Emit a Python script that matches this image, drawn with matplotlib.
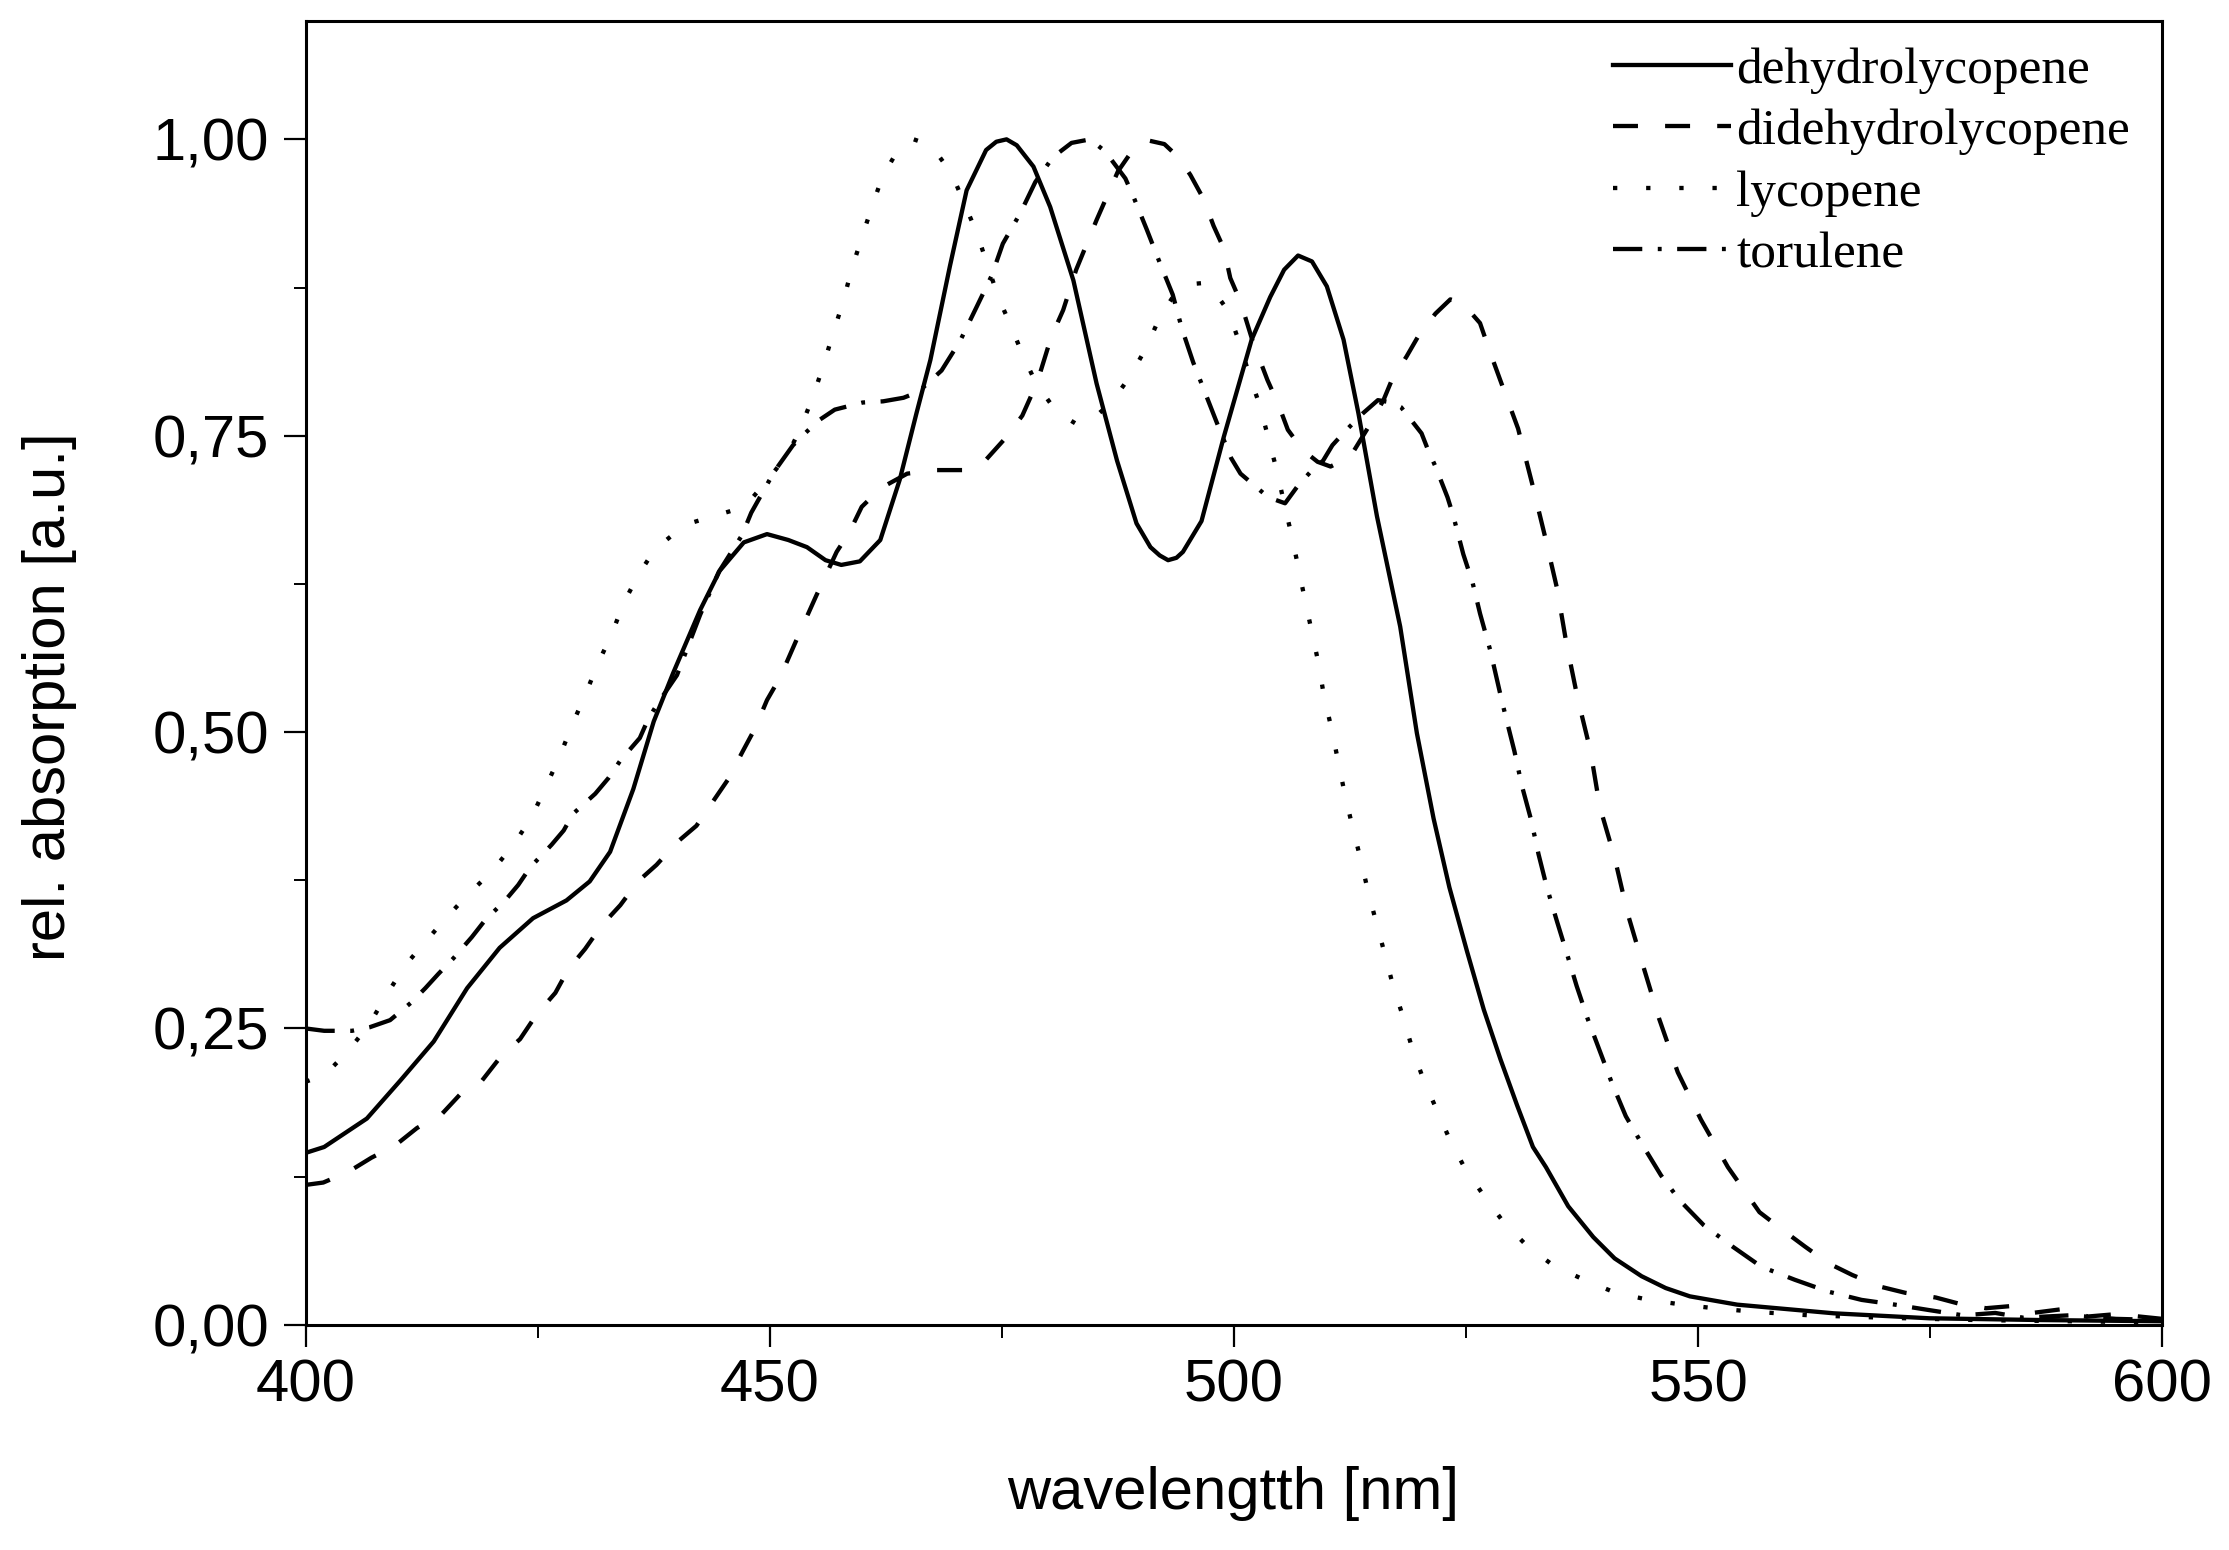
import matplotlib
matplotlib.use("Agg")
import matplotlib.pyplot as plt
from matplotlib.ticker import MultipleLocator, FuncFormatter

# ---------------- data ----------------
dehydro_x = [400, 402, 406.6, 410.2, 413.8, 417.4, 420.9, 424.5, 428.1, 430.6, 432.8, 435.3,
             437.5, 439.6, 442.5, 444.6, 447.2, 449.7, 452, 454, 456, 457.7, 459.7, 461.9,
             464, 465.8, 467.3, 469.4, 471.2, 473.3, 474.4, 475.5, 476.6, 477.5, 478.4, 480.2,
             482.7, 485.2, 487.4, 489.5, 491, 492, 492.9, 493.8, 494.5, 496.5, 498.9, 501.9,
             503.9, 505.4, 506.9, 508.4, 510, 511.8, 513.4, 515.4, 517.9, 519.7, 521.5, 523.2,
             525.1, 526.9, 528.7, 530.5, 532.2, 533.6, 536, 538.7, 541, 543.9, 546.5, 549.1,
             554.2, 564.6, 574.9, 587, 600]
dehydro_y = [0.145, 0.150, 0.174, 0.206, 0.239, 0.284, 0.318, 0.343, 0.358, 0.374, 0.399, 0.452,
             0.509, 0.550, 0.603, 0.636, 0.660, 0.667, 0.662, 0.656, 0.645, 0.641, 0.644, 0.662,
             0.713, 0.769, 0.814, 0.893, 0.957, 0.991, 0.998, 1.000, 0.995, 0.986, 0.977, 0.943,
             0.881, 0.794, 0.729, 0.676, 0.656, 0.649, 0.645, 0.647, 0.652, 0.678, 0.749, 0.831,
             0.867, 0.890, 0.902, 0.897, 0.876, 0.831, 0.769, 0.682, 0.589, 0.499, 0.427, 0.369,
             0.315, 0.266, 0.224, 0.185, 0.150, 0.133, 0.100, 0.074, 0.056, 0.041, 0.031, 0.024,
             0.017, 0.0097, 0.0055, 0.004, 0.003]

didehydro_x = [400, 401.9, 404.6, 407.1, 409.6, 412, 414.7, 416.6, 419, 421.1, 423.1, 424.9,
               426.9, 428.3, 430.1, 431.9, 433.9, 435.8, 437.8, 440, 442.1, 444.1, 445.5, 447.1,
               448.4, 449.7, 451.1, 453, 455, 457.2, 458.6, 459.9, 462, 464.8, 467.8, 470.8,
               473.2, 475.5, 477.2, 478.8, 480.3, 481.6, 483, 485.2, 487.5, 489, 490.8, 492.5,
               494, 495.3, 496.7, 497.8, 498.9, 499.6, 500.7, 502, 503.6, 504.8, 505.8, 507.4,
               509, 510.4, 512.5, 514.3, 516.1, 517, 518.6, 520, 521.7, 523.3, 524.6, 526.5,
               527.6, 529, 530.6, 532.1, 533.5, 534.8, 535.8, 537, 538.4, 539.4, 541, 542.4,
               544.1, 545.8, 547.8, 550.3, 553.2, 556.6, 559.1, 561.5, 564, 566.6, 569.7, 572.3,
               575.6, 578, 581, 584, 586, 589, 592, 595, 600]
didehydro_y = [0.118, 0.120, 0.129, 0.141, 0.151, 0.166, 0.178, 0.194, 0.206, 0.227, 0.241, 0.262,
               0.280, 0.300, 0.317, 0.337, 0.354, 0.374, 0.388, 0.407, 0.421, 0.444, 0.460, 0.484,
               0.503, 0.527, 0.546, 0.580, 0.615, 0.652, 0.669, 0.690, 0.706, 0.718, 0.721, 0.721,
               0.729, 0.749, 0.767, 0.795, 0.833, 0.856, 0.890, 0.932, 0.973, 0.990, 0.999, 0.996,
               0.985, 0.970, 0.950, 0.927, 0.908, 0.883, 0.863, 0.830, 0.797, 0.776, 0.755, 0.738,
               0.728, 0.724, 0.732, 0.755, 0.780, 0.797, 0.817, 0.836, 0.853, 0.865, 0.862, 0.845,
               0.820, 0.790, 0.756, 0.710, 0.665, 0.621, 0.575, 0.529, 0.484, 0.437, 0.394, 0.347,
               0.302, 0.258, 0.213, 0.173, 0.133, 0.095, 0.080, 0.066, 0.052, 0.042, 0.032, 0.027,
               0.023, 0.018, 0.014, 0.016, 0.010, 0.013, 0.007, 0.009, 0.005]

lycopene_x = [400, 402.1, 404.6, 406.9, 408.7, 410.7, 412.9, 415.1, 417.5, 420, 422.4, 424.4,
              426, 427.4, 428.7, 430.1, 431.5, 433, 434.2, 435.8, 437.6, 440.9, 444.3, 447.3,
              450, 452, 453.4, 454.7, 455.8, 456.8, 457.9, 458.8, 459.9, 461, 462.1, 463.8,
              465.5, 467, 468.3, 469.6, 471, 472.3, 474.6, 476, 477.3, 478.7, 480.9, 483, 484.3,
              486.8, 488.8, 490.6, 492, 493.5, 495.5, 497, 498.2, 499.4, 500.6, 501.7, 502.8,
              503.7, 504.6, 505.4, 506.2, 506.9, 507.6, 508.4, 509.1, 509.7, 510.5, 511.2, 511.9,
              512.7, 513.6, 514.4, 515.3, 516.2, 517.1, 518.2, 519.2, 520.4, 521.8, 523.2, 524.8,
              526.9, 528.9, 531.5, 534.4, 537.7, 541.1, 544.7, 548.3, 551.7, 556, 562, 570, 580,
              590, 600]
lycopene_y = [0.205, 0.211, 0.231, 0.254, 0.278, 0.303, 0.323, 0.343, 0.363, 0.382, 0.405, 0.429,
              0.456, 0.480, 0.506, 0.531, 0.558, 0.583, 0.608, 0.632, 0.654, 0.675, 0.683, 0.690,
              0.715, 0.735, 0.758, 0.784, 0.810, 0.836, 0.863, 0.890, 0.917, 0.943, 0.968, 0.991,
              1.000, 0.996, 0.985, 0.971, 0.945, 0.921, 0.867, 0.842, 0.817, 0.794, 0.770, 0.760, 0.761,
              0.778, 0.800, 0.825, 0.850, 0.868, 0.878, 0.879, 0.868, 0.855, 0.828, 0.800, 0.775,
              0.748, 0.721, 0.693, 0.666, 0.640, 0.613, 0.584, 0.558, 0.530, 0.503, 0.476, 0.449,
              0.422, 0.394, 0.367, 0.340, 0.314, 0.287, 0.260, 0.233, 0.207, 0.182, 0.157, 0.133,
              0.109, 0.088, 0.067, 0.050, 0.038, 0.027, 0.021, 0.017, 0.014, 0.011, 0.008, 0.006, 0.004,
              0.003, 0.002]

torulene_x = [400, 402, 405, 406.9, 409.1, 411.4, 412.9, 414.3, 415.9, 417.9, 419.3, 421.5,
              422.9, 424.2, 426.5, 427.8, 428.8, 431.2, 432.6, 433.9, 436, 436.9, 438, 440,
              442.5, 444.5, 447, 448, 450.5, 452.5, 455.1, 457, 460, 462.2, 464.4, 466, 468.5,
              470.5, 472.3, 473.9, 475.1, 477, 478.6, 480.5, 482.5, 484.5, 486.1, 488.3, 489.2,
              490.6, 492, 493.4, 494.4, 495.6, 496.9, 498.2, 499.7, 500.7, 502.2, 503.7, 505.5,
              506.9, 508.3, 509.6, 510.6, 512, 513.9, 515.5, 517, 518, 520.2, 520.9, 521.7, 523,
              523.6, 524.1, 524.7, 525.7, 526.5, 527.6, 528.8, 529.3, 530.2, 531, 532, 532.8,
              533.7, 534.8, 535.9, 536.9, 538.1, 539.4, 540.7, 542.2, 543.9, 546, 548, 550.6,
              553.7, 556.8, 560.4, 564, 567.6, 571.2, 574.8, 578.5, 582, 585, 590, 595, 600]
torulene_y = [0.250, 0.248, 0.248, 0.251, 0.257, 0.272, 0.284, 0.296, 0.309, 0.327, 0.341, 0.358,
              0.371, 0.386, 0.405, 0.417, 0.431, 0.448, 0.461, 0.476, 0.495, 0.511, 0.525, 0.548,
              0.599, 0.635, 0.666, 0.685, 0.720, 0.742, 0.762, 0.772, 0.778, 0.779, 0.782, 0.787, 0.805,
              0.830, 0.859, 0.885, 0.912, 0.938, 0.964, 0.985, 0.997, 1.000, 0.990, 0.967, 0.951,
              0.924, 0.896, 0.869, 0.840, 0.812, 0.786, 0.760, 0.731, 0.718, 0.708, 0.698, 0.693,
              0.708, 0.720, 0.729, 0.742, 0.754, 0.769, 0.780, 0.778, 0.774, 0.752, 0.738, 0.724, 0.698,
              0.683, 0.668, 0.650, 0.626, 0.600, 0.569, 0.528, 0.512, 0.484, 0.455, 0.426, 0.397,
              0.369, 0.340, 0.312, 0.286, 0.258, 0.231, 0.204, 0.176, 0.153, 0.126, 0.105, 0.084,
              0.066, 0.049, 0.038, 0.028, 0.021, 0.017, 0.0125, 0.008, 0.010, 0.006, 0.008, 0.005, 0.004]

series_labels = ["dehydrolycopene", "didehydrolycopene", "lycopene", "torulene"]
x_ticks = [400, 450, 500, 550, 600]
y_ticks = [0.0, 0.25, 0.5, 0.75, 1.0]

# ---------------- figure ----------------
W, H = 2229, 1550
fig = plt.figure(figsize=(W / 100, H / 100), dpi=100)
ax = fig.add_axes([305.6 / W, 1 - 1324.8 / H, (2162.4 - 305.6) / W, (1324.8 - 20.8) / H])

lw = 3.1
styles = ["-", (0, (5.8, 6.3)), (0, (1, 6.7)), (0, (6.8, 3.6, 0.9, 3.6))]
data = [(dehydro_x, dehydro_y), (didehydro_x, didehydro_y),
        (lycopene_x, lycopene_y), (torulene_x, torulene_y)]
for (xs, ys), ls, lab in zip(data, styles, series_labels):
    ax.plot(xs, ys, color="black", lw=lw, linestyle=ls, label=lab,
            solid_joinstyle="round")

ax.set_xlim(400, 600)
ax.set_ylim(0, 1.1)
ax.set_xticks(x_ticks)
ax.set_yticks(y_ticks)
ax.xaxis.set_minor_locator(MultipleLocator(25))
ax.yaxis.set_minor_locator(MultipleLocator(0.125))
ax.yaxis.set_major_formatter(FuncFormatter(lambda v, p: f"{v:.2f}".replace(".", ",")))
ax.xaxis.set_major_formatter(FuncFormatter(lambda v, p: f"{v:.0f}"))

sans = ["Liberation Sans", "DejaVu Sans"]
ax.tick_params(axis="both", which="major", direction="out", length=16, width=1.6,
               labelsize=43, top=False, right=False)
ax.tick_params(axis="both", which="minor", direction="out", length=9, width=1.4,
               top=False, right=False)
ax.tick_params(axis="x", which="major", pad=8)
ax.tick_params(axis="y", which="major", pad=10)
for lab in ax.get_xticklabels() + ax.get_yticklabels():
    lab.set_family(sans)

for side in ["left", "bottom", "top", "right"]:
    ax.spines[side].set_linewidth(2.2)
    ax.spines[side].set_color("black")

ax.set_xlabel("wavelengtth [nm]", fontsize=43, family=sans)
ax.set_ylabel("rel. absorption [a.u.]", fontsize=43, family=sans)
ax.xaxis.set_label_coords(0.4995, -0.108)
ax.yaxis.set_label_coords(-0.123, 0.482)

leg = ax.legend(loc="upper left", bbox_to_anchor=(1613 / W, 1 - 47 / H),
                bbox_transform=fig.transFigure, frameon=False,
                prop={"family": ["Liberation Serif", "DejaVu Serif"], "size": 37},
                handlelength=2.3, handletextpad=0.1, labelspacing=0.28,
                borderpad=0, borderaxespad=0)

fig.savefig("out.png", dpi=100)
